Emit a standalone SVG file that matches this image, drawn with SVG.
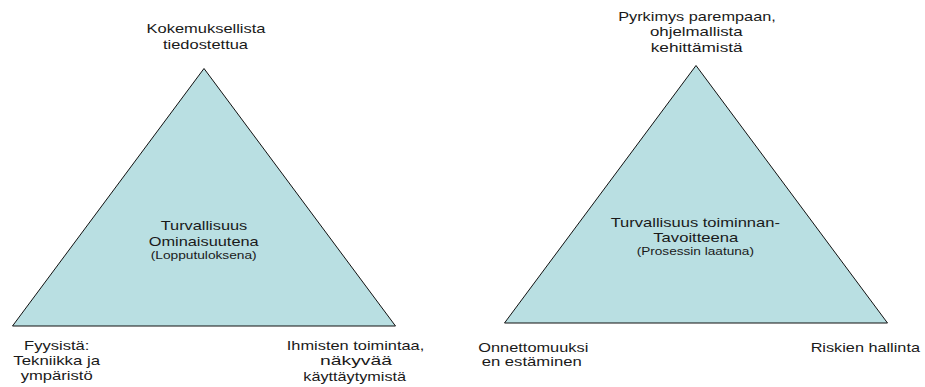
<svg xmlns="http://www.w3.org/2000/svg" width="925" height="387" viewBox="0 0 925 387">
<style>
.tri{fill:#B9DFE2;stroke:#111;stroke-width:1}
text{font-family:"Liberation Sans",Arial,sans-serif;fill:#1a1a1a;text-anchor:middle}
.l{font-size:13px}
.s{font-size:10.5px}
</style>
<rect width="925" height="387" fill="#fff"/>
<g id="triangle-left">
<polygon class="tri" points="204,68.5 12.5,326 395.5,326"/>
<text class="l" x="204" y="229.5" textLength="86.6" lengthAdjust="spacingAndGlyphs">Turvallisuus</text>
<text class="l" x="203.7" y="245.7" textLength="110" lengthAdjust="spacingAndGlyphs">Ominaisuutena</text>
<text class="s" x="203.7" y="259" textLength="106" lengthAdjust="spacingAndGlyphs">(Lopputuloksena)</text>
</g>
<g id="label-left-top">
<text class="l" x="206" y="33.3" textLength="119" lengthAdjust="spacingAndGlyphs">Kokemuksellista</text>
<text class="l" x="205.5" y="48.7" textLength="85" lengthAdjust="spacingAndGlyphs">tiedostettua</text>
</g>
<g id="label-left-bl">
<text class="l" x="56.7" y="349.5" textLength="65.3" lengthAdjust="spacingAndGlyphs">Fyysistä:</text>
<text class="l" x="56.7" y="365.3" textLength="86.7" lengthAdjust="spacingAndGlyphs">Tekniikka ja</text>
<text class="l" x="56.7" y="380" textLength="72" lengthAdjust="spacingAndGlyphs">ympäristö</text>
</g>
<g id="label-left-br">
<text class="l" x="355.5" y="349.5" textLength="137.5" lengthAdjust="spacingAndGlyphs">Ihmisten toimintaa,</text>
<text class="l" x="356" y="365.3" textLength="72" lengthAdjust="spacingAndGlyphs">näkyvää</text>
<text class="l" x="354.7" y="380.5" textLength="102.7" lengthAdjust="spacingAndGlyphs">käyttäytymistä</text>
</g>
<g id="triangle-right">
<polygon class="tri" points="696,65.5 504.5,323 887.5,323"/>
<text class="l" x="695.3" y="226.7" textLength="169.3" lengthAdjust="spacingAndGlyphs">Turvallisuus toiminnan-</text>
<text class="l" x="695.8" y="242.3" textLength="85" lengthAdjust="spacingAndGlyphs">Tavoitteena</text>
<text class="s" x="695.3" y="255.3" textLength="117.3" lengthAdjust="spacingAndGlyphs">(Prosessin laatuna)</text>
</g>
<g id="label-right-top">
<text class="l" x="697" y="20.7" textLength="157.7" lengthAdjust="spacingAndGlyphs">Pyrkimys parempaan,</text>
<text class="l" x="696.3" y="36.2" textLength="92.7" lengthAdjust="spacingAndGlyphs">ohjelmallista</text>
<text class="l" x="696.7" y="51.7" textLength="92" lengthAdjust="spacingAndGlyphs">kehittämistä</text>
</g>
<g id="label-right-bl">
<text class="l" x="533.3" y="351.5" textLength="110" lengthAdjust="spacingAndGlyphs">Onnettomuuksi</text>
<text class="l" x="531.7" y="365.7" textLength="100" lengthAdjust="spacingAndGlyphs">en estäminen</text>
</g>
<g id="label-right-br">
<text class="l" x="865.3" y="351.5" textLength="109.3" lengthAdjust="spacingAndGlyphs">Riskien hallinta</text>
</g>
</svg>
